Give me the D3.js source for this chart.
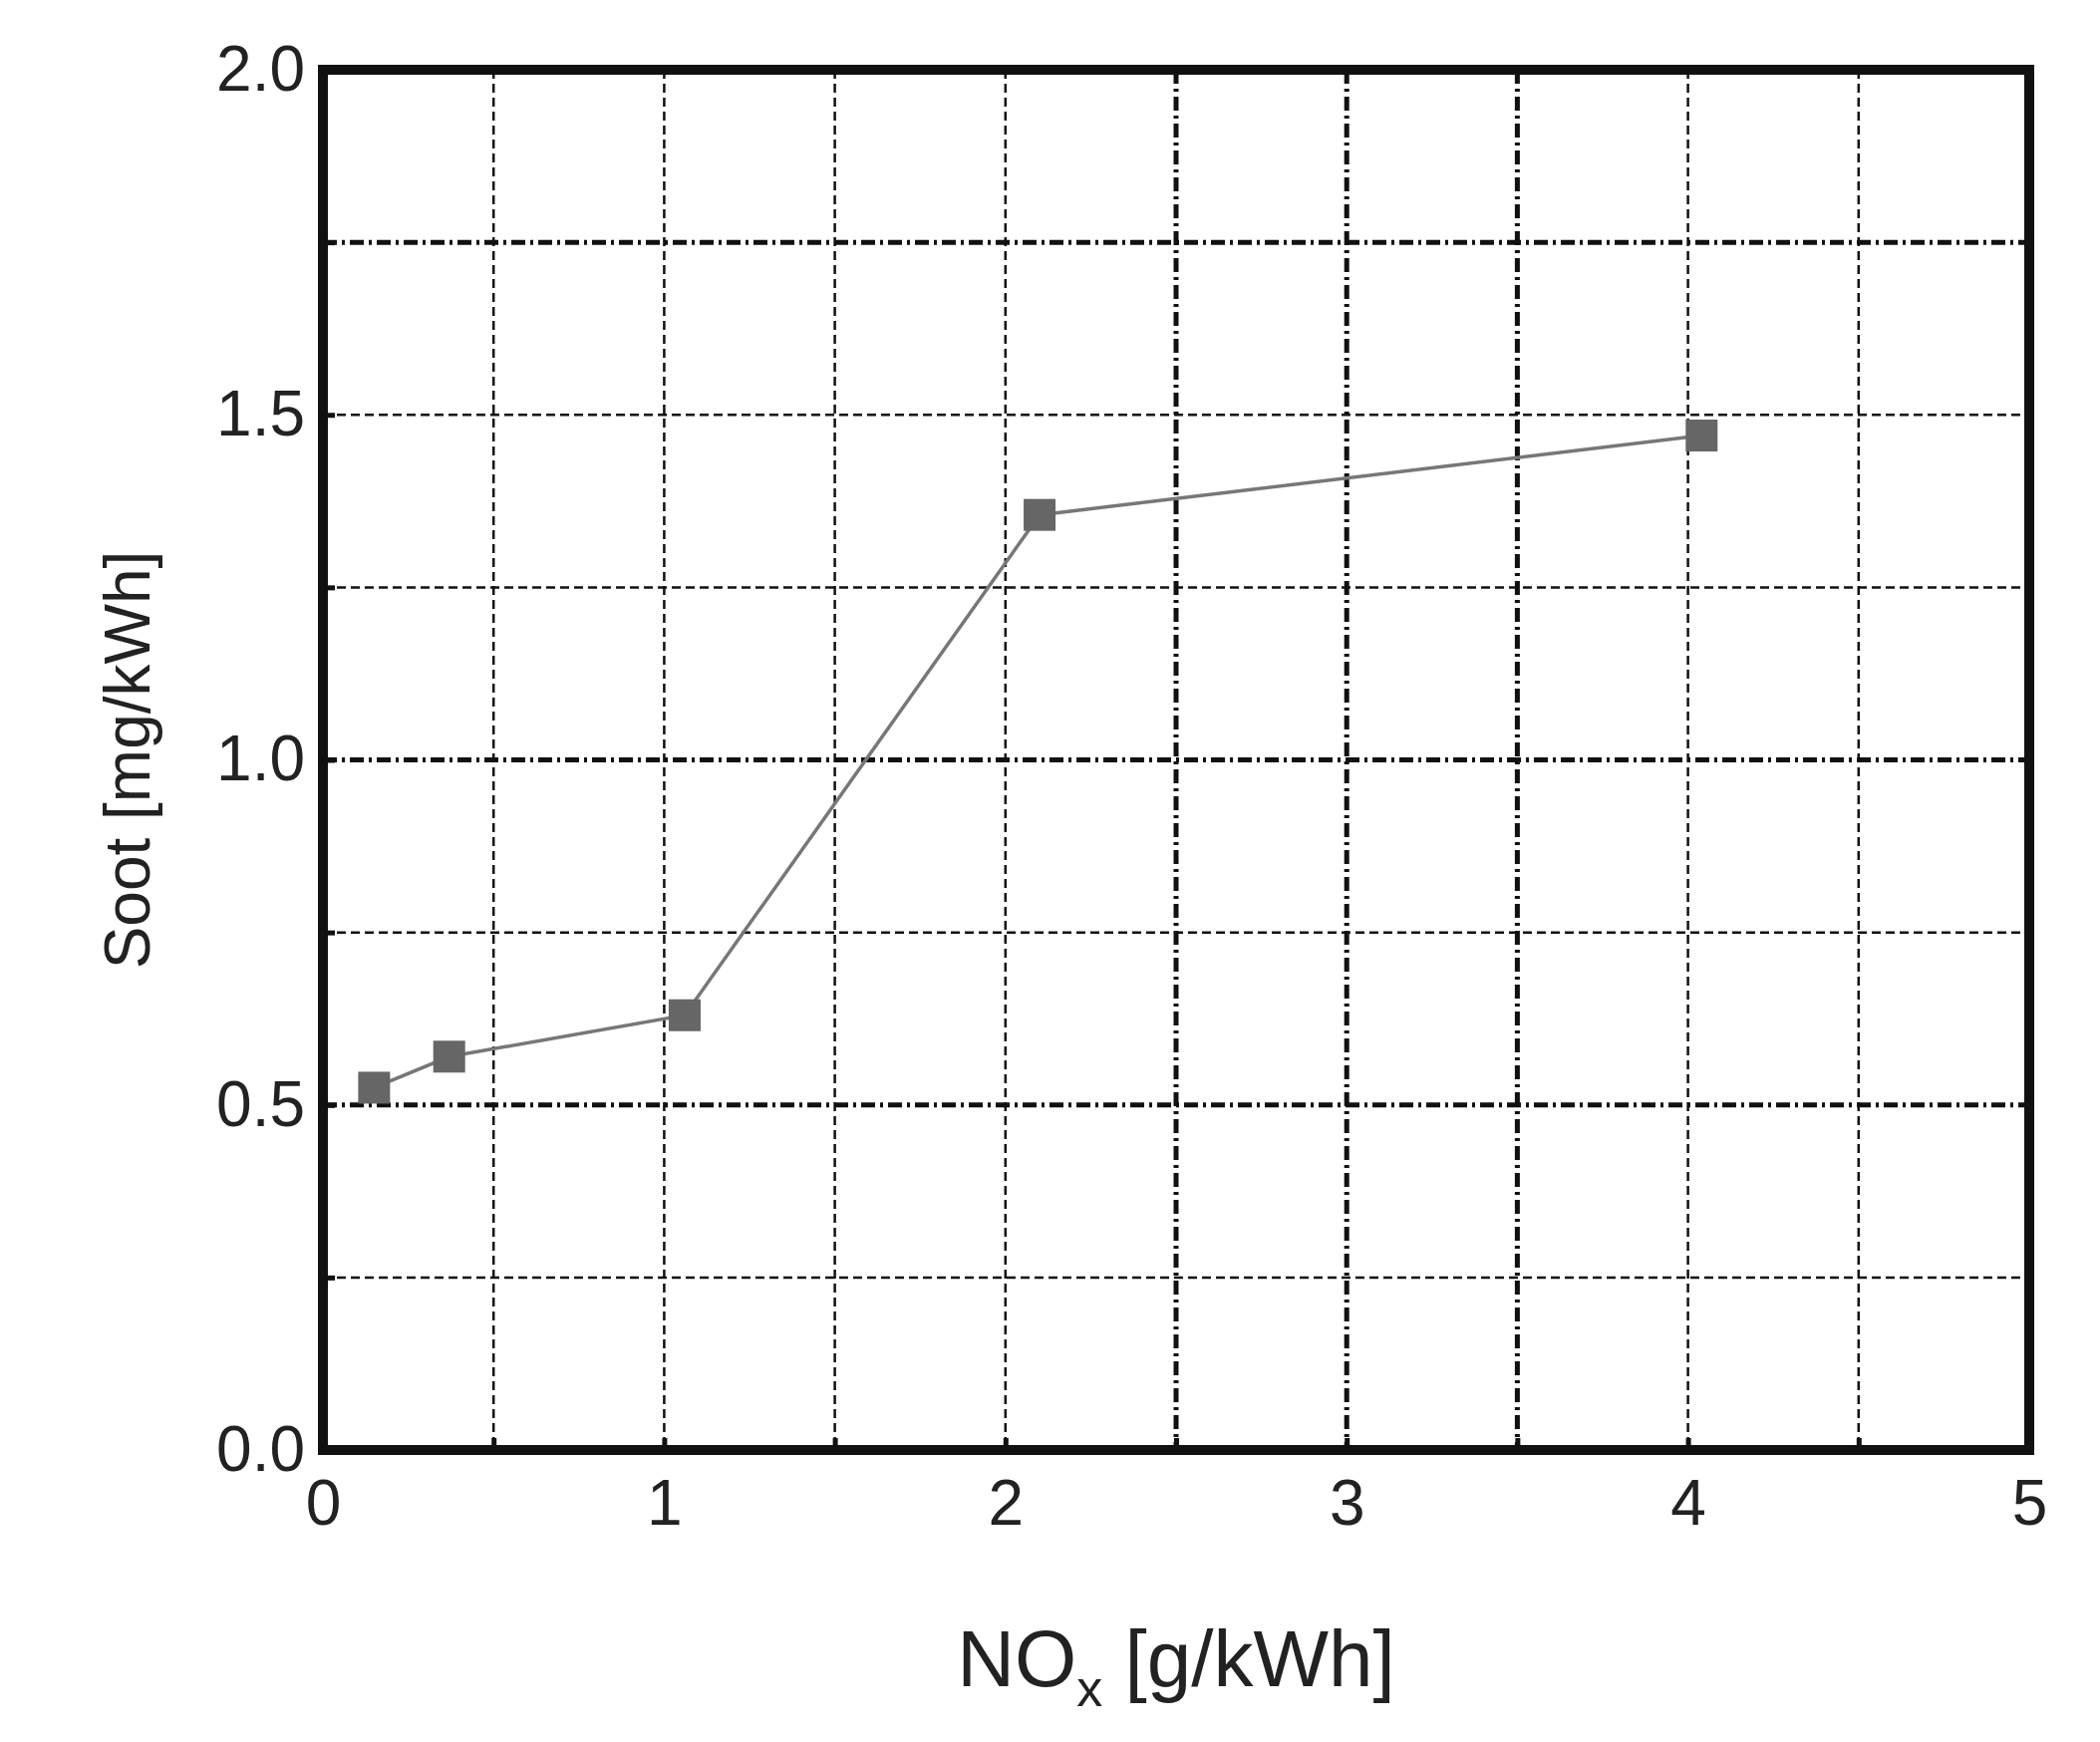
<!DOCTYPE html>
<html><head><meta charset="utf-8">
<script src="https://cdn.jsdelivr.net/npm/d3@7"></script>
<style>body{margin:0;background:#fff}text{font-family:"Liberation Sans",Arial,sans-serif;fill:#222}</style>
</head><body>
<svg id="c" width="2107" height="1748"></svg>
<script>
const noxValues=[0.15,0.37,1.06,2.1,4.04];
const sootValues=[0.525,0.57,0.63,1.355,1.47];
const xTicks=[0,1,2,3,4,5];
const yTicks=[0.0,0.5,1.0,1.5,2.0];
const xGrid=[0.5,1,1.5,2,2.5,3,3.5,4,4.5];
const yGrid=[0.25,0.5,0.75,1.0,1.25,1.5,1.75];
const heavyX=[2.5,3,3.5], heavyY=[0.5,1.0,1.75];

const svg=d3.select("#c");
const L=324,R=2036,T=70,B=1455;
const x=d3.scaleLinear().domain([0,5]).range([L,R]);
const y=d3.scaleLinear().domain([0,2]).range([B,T]);

svg.selectAll(".gx").data(xGrid).join("line")
 .attr("x1",d=>x(d)).attr("x2",d=>x(d)).attr("y1",T).attr("y2",B)
 .attr("stroke","#111").attr("stroke-width",d=>heavyX.includes(d)?5:2.5)
 .attr("stroke-dasharray",d=>heavyX.includes(d)?"14,5,3,5":"9,5");
svg.selectAll(".gy").data(yGrid).join("line")
 .attr("y1",d=>y(d)).attr("y2",d=>y(d)).attr("x1",L).attr("x2",R)
 .attr("stroke","#111").attr("stroke-width",d=>heavyY.includes(d)?5:2.5)
 .attr("stroke-dasharray",d=>heavyY.includes(d)?"14,5,3,5":"9,5");

svg.append("rect").attr("x",L).attr("y",T).attr("width",R-L).attr("height",B-T)
 .attr("fill","none").attr("stroke","#111").attr("stroke-width",10);

const xa=svg.append("g").attr("transform",`translate(0,${B})`)
 .call(d3.axisBottom(x).tickValues(d3.range(0,5.01,0.5)).tickSize(-12).tickPadding(30).tickFormat(d=>xTicks.includes(d)?d3.format("d")(d):""));
const ya=svg.append("g").attr("transform",`translate(${L},0)`)
 .call(d3.axisLeft(y).tickValues(d3.range(0,2.01,0.25)).tickSize(-12).tickPadding(14).tickFormat(d=>yTicks.includes(d)?d3.format(".1f")(d):""));
[xa,ya].forEach(g=>{g.select(".domain").remove();g.selectAll("line").attr("stroke","#111").attr("stroke-width",5);g.selectAll("text").attr("font-size",64).attr("fill","#222");});
ya.selectAll("text").attr("dx",-4);
ya.selectAll(".tick").filter(d=>d===0||d===2).select("line").remove();

svg.append("path").datum(d3.zip(noxValues,sootValues))
 .attr("d",d3.line().x(d=>x(d[0])).y(d=>y(d[1])))
 .attr("fill","none").attr("stroke","#777").attr("stroke-width",3.5);
svg.selectAll(".m").data(d3.zip(noxValues,sootValues)).join("rect")
 .attr("x",d=>x(d[0])-16).attr("y",d=>y(d[1])-16).attr("width",32).attr("height",32).attr("fill","#666");

const xt=svg.append("text").attr("x",(L+R)/2).attr("y",1692).attr("text-anchor","middle").attr("font-size",80);
xt.append("tspan").text("NO");
xt.append("tspan").text("x").attr("font-size",52).attr("dy",20);
xt.append("tspan").text(" [g/kWh]").attr("dy",-20);
svg.append("text").attr("transform",`translate(150,${(T+B)/2}) rotate(-90)`).attr("text-anchor","middle").attr("font-size",64).text("Soot [mg/kWh]");
</script>
</body></html>
